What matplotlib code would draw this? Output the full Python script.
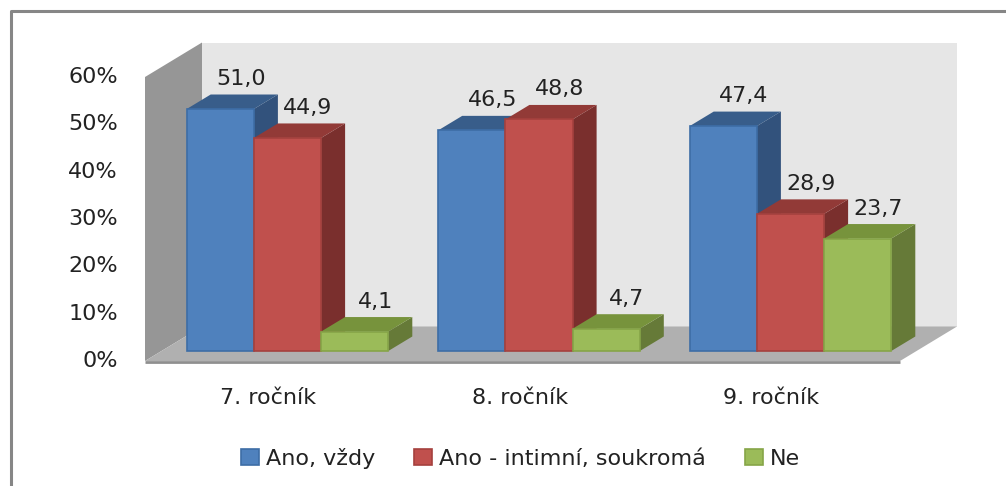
import matplotlib
matplotlib.use("Agg")
import matplotlib.pyplot as plt
from matplotlib.patches import Polygon, Patch

groups = ["7. ročník", "8. ročník", "9. ročník"]
series = ["Ano, vždy", "Ano - intimní, soukromá", "Ne"]
ano_vzdy = [51.0, 46.5, 47.4]
ano_intimni = [44.9, 48.8, 28.9]
ne = [4.1, 4.7, 23.7]
y_ticks = [0, 10, 20, 30, 40, 50, 60]

front_colors = ["#4F81BD", "#C0504D", "#9BBB59"]
edge_colors = ["#3D6DA6", "#A5413E", "#86A548"]
top_colors = ["#385D8A", "#923A37", "#77933C"]
side_colors = ["#32527C", "#7A2F2D", "#667A38"]

# pixel scale of the front plane
px_per_group = 251.5
px_per_pct = 4.745
group1_px = 287.5
base_px = 351


def dx(px):
    return px / px_per_group


def dy(px):
    return px / px_per_pct


plt.rcParams["font.family"] = "DejaVu Sans"
fig = plt.figure(figsize=(10.06, 4.86), dpi=100)
ax = fig.add_axes([0, 0, 1, 1])
ax.set_xlim(1 - dx(group1_px), 1 + dx(1006 - group1_px))
ax.set_ylim(-dy(486 - base_px), dy(base_px))
ax.axis("off")

bar_w = dx(67.2)
depth_x = dx(24)
depth_y = dy(14.5)
text_col = "#222222"
font_size = 16

# outer frame, runs off the right and bottom of the picture
ax.plot([1 - dx(group1_px - 11), 1 - dx(group1_px - 11), 1 + dx(1006 - group1_px + 5)],
        [-dy(486 - base_px + 5), dy(base_px - 11), dy(base_px - 11)],
        color="#868686", lw=2.2, zorder=1)

# walls and floor
tick_off = -dy(10)
tick_scale = 0.9975
wall_l = 1 - dx(group1_px - 145)
wall_r = 3 + dx(900 - (group1_px + 2 * px_per_group))
wall_dx = dx(57)
wall_dy = dy(34.5)
wall_top = tick_off + 60 * tick_scale
ax.add_patch(Polygon([(wall_l + wall_dx, tick_off + wall_dy), (wall_l + wall_dx, wall_top + wall_dy),
                      (wall_r + wall_dx, wall_top + wall_dy), (wall_r + wall_dx, tick_off + wall_dy)],
                     fc="#E6E6E6", ec="none", zorder=2))
ax.add_patch(Polygon([(wall_l, tick_off), (wall_l, wall_top),
                      (wall_l + wall_dx, wall_top + wall_dy), (wall_l + wall_dx, tick_off + wall_dy)],
                     fc="#969696", ec="none", zorder=3))
ax.add_patch(Polygon([(wall_l, tick_off), (wall_r, tick_off),
                      (wall_r + wall_dx, tick_off + wall_dy), (wall_l + wall_dx, tick_off + wall_dy)],
                     fc="#B0B0B0", ec="none", zorder=3))
ax.plot([wall_l, wall_r], [tick_off - dy(1), tick_off - dy(1)], color="#8F8F8F", lw=2, zorder=3,
        solid_capstyle="butt")

# bars, left to right so each one overlaps the side of the previous
z = 4
for g in range(len(groups)):
    for s, values in enumerate([ano_vzdy, ano_intimni, ne]):
        v = values[g]
        x0 = g + 1 + (s - 1.5) * bar_w
        x1 = x0 + bar_w
        ax.add_patch(Polygon([(x1, 0), (x1 + depth_x, depth_y), (x1 + depth_x, v + depth_y), (x1, v)],
                             fc=side_colors[s], ec="none", zorder=z))
        ax.add_patch(Polygon([(x0, v), (x1, v), (x1 + depth_x, v + depth_y), (x0 + depth_x, v + depth_y)],
                             fc=top_colors[s], ec="none", zorder=z))
        ax.bar(x0, v, width=bar_w, align="edge", color=front_colors[s],
               edgecolor=edge_colors[s], linewidth=1.2, zorder=z + 1)
        ax.text(x0 + bar_w / 2 + dx(20.5), v + dy(30), f"{v:.1f}".replace(".", ","),
                ha="center", va="center", fontsize=font_size, color=text_col, zorder=20)
        z += 2

for t in y_ticks:
    ax.text(1 - dx(group1_px - 118), tick_off + t * tick_scale, f"{t}%",
            ha="right", va="center", fontsize=font_size, color=text_col)

for g, name in enumerate(groups):
    ax.text(g + 1 - dx(19), -dy(47), name, ha="center", va="center", fontsize=font_size, color=text_col)

handles = [Patch(fc=front_colors[i], ec=edge_colors[i], lw=1.2) for i in range(3)]
ax.legend(handles, series, ncol=3, frameon=False, loc="center",
          bbox_to_anchor=(520.5 / 1006, 1 - 458 / 486), fontsize=font_size,
          handlelength=0.8, handleheight=0.7, handletextpad=0.33, columnspacing=1.75,
          labelcolor=text_col)

fig.savefig("out.png", dpi=100)
